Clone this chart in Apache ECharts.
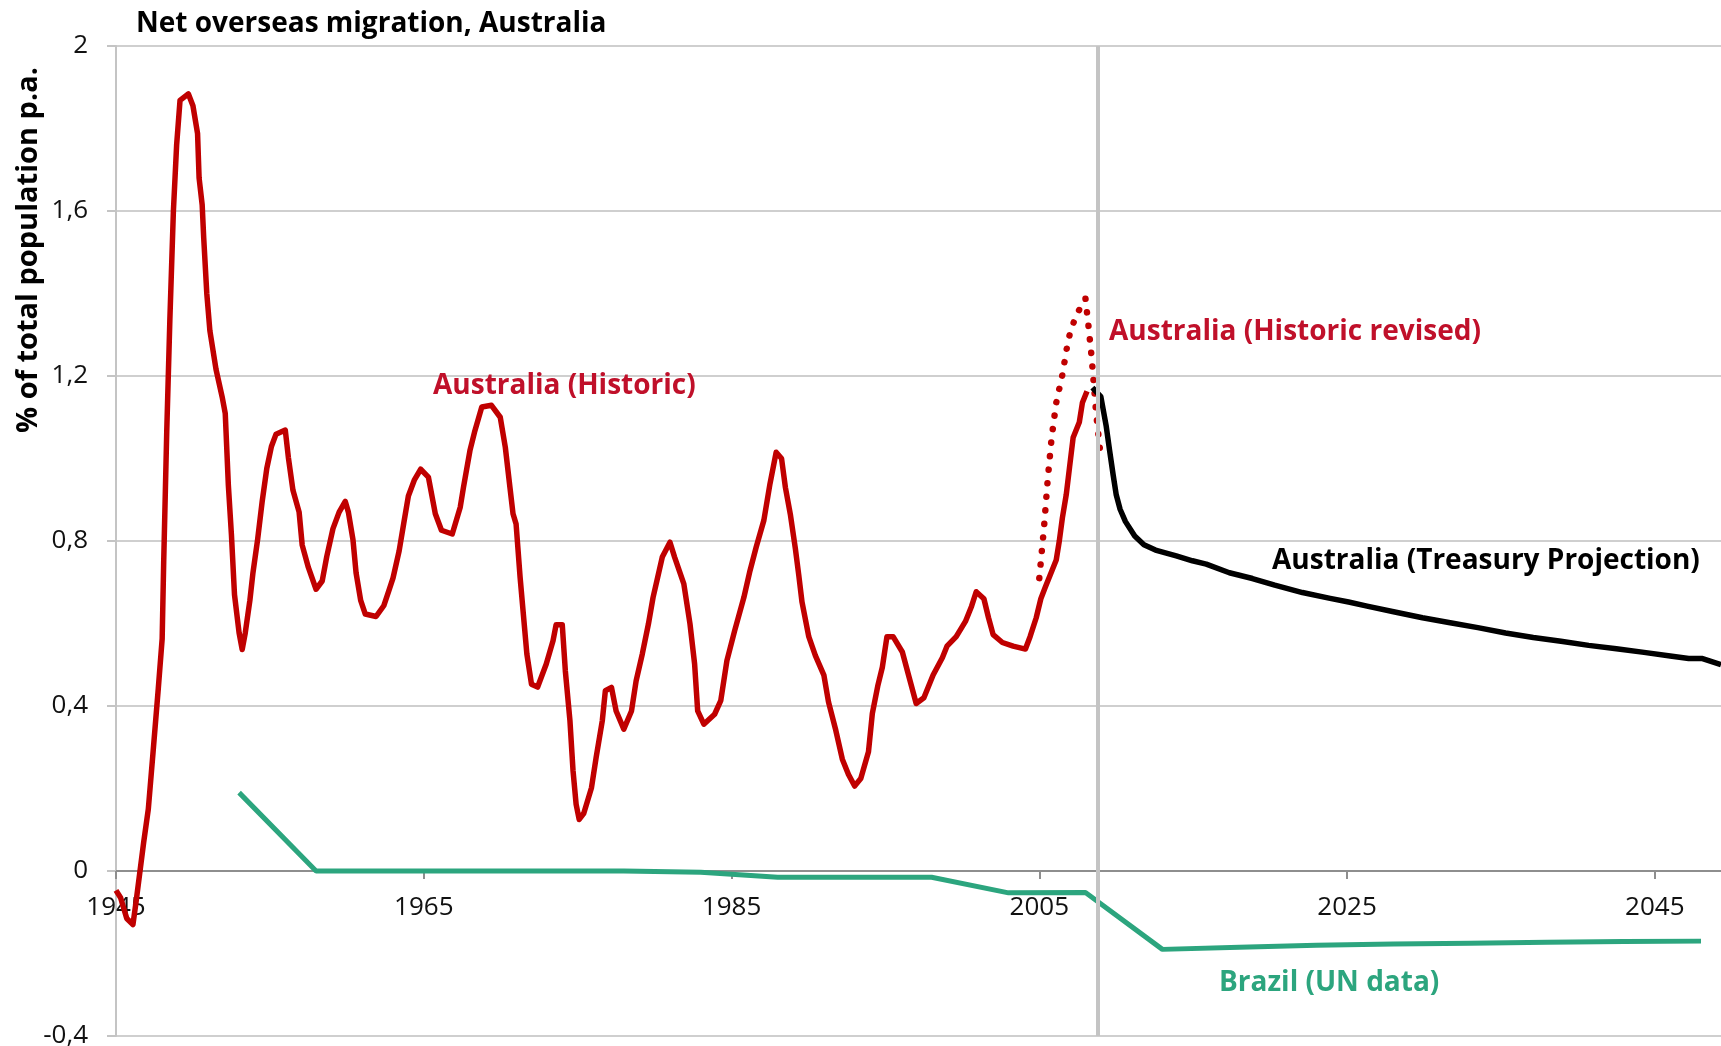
<!DOCTYPE html>
<html>
<head>
<meta charset="utf-8">
<script src="https://cdn.jsdelivr.net/npm/echarts@6/dist/echarts.min.js"></script>
<style>
  html, body { margin: 0; padding: 0; background: #fff; }
  #chart { width: 1721px; height: 1046px; }
</style>
</head>
<body>
<div id="chart"></div>
<script>
// net overseas migration, % of total population p.a. -- [year, value]
const historic = [
  [1945.0, -0.047], [1945.3, -0.065], [1945.7, -0.115], [1946.1, -0.13], [1946.3, -0.076],
  [1946.8, 0.07], [1947.1, 0.15], [1947.4, 0.284], [1947.75, 0.443], [1948.0, 0.563],
  [1948.1, 0.75], [1948.3, 1.069], [1948.5, 1.336], [1948.73, 1.6], [1948.94, 1.76],
  [1949.16, 1.868], [1949.7, 1.884], [1950.0, 1.855], [1950.3, 1.788], [1950.4, 1.68],
  [1950.6, 1.615], [1950.7, 1.535], [1950.9, 1.4], [1951.1, 1.31], [1951.5, 1.216],
  [1951.9, 1.149], [1952.1, 1.109], [1952.3, 0.936], [1952.5, 0.816], [1952.7, 0.67],
  [1953.0, 0.577], [1953.2, 0.537], [1953.4, 0.577], [1953.7, 0.656], [1953.9, 0.723],
  [1954.2, 0.803], [1954.5, 0.896], [1954.8, 0.976], [1955.1, 1.029], [1955.4, 1.059],
  [1956.0, 1.069], [1956.2, 1.003], [1956.5, 0.923], [1956.9, 0.87], [1957.1, 0.79],
  [1957.5, 0.736], [1958.0, 0.683], [1958.4, 0.703], [1958.7, 0.763], [1959.1, 0.83],
  [1959.5, 0.87], [1959.9, 0.896], [1960.1, 0.87], [1960.4, 0.803], [1960.6, 0.723],
  [1960.9, 0.656], [1961.2, 0.623], [1961.9, 0.617], [1962.4, 0.643], [1962.7, 0.676],
  [1963.0, 0.71], [1963.4, 0.776], [1963.7, 0.843], [1964.0, 0.909], [1964.4, 0.949],
  [1964.8, 0.974], [1965.3, 0.955], [1965.75, 0.866], [1966.15, 0.826], [1966.85, 0.817],
  [1967.37, 0.882], [1967.58, 0.93], [1968.0, 1.019], [1968.3, 1.064], [1968.77, 1.125],
  [1969.4, 1.129], [1969.97, 1.1], [1970.3, 1.027], [1970.6, 0.93], [1970.8, 0.866],
  [1971.0, 0.841], [1971.26, 0.712], [1971.7, 0.526], [1972.0, 0.453], [1972.4, 0.446],
  [1972.96, 0.502], [1973.4, 0.558], [1973.6, 0.597], [1974.0, 0.597], [1974.2, 0.485],
  [1974.5, 0.364], [1974.7, 0.243], [1974.9, 0.162], [1975.1, 0.125], [1975.4, 0.14],
  [1975.9, 0.202], [1976.2, 0.275], [1976.6, 0.364], [1976.8, 0.437], [1977.2, 0.445],
  [1977.5, 0.388], [1978.0, 0.344], [1978.5, 0.388], [1978.8, 0.461], [1979.2, 0.526],
  [1979.6, 0.599], [1979.9, 0.663], [1980.2, 0.712], [1980.5, 0.761], [1981.0, 0.797],
  [1981.3, 0.761], [1981.9, 0.696], [1982.3, 0.599], [1982.6, 0.502], [1982.8, 0.388],
  [1983.2, 0.356], [1983.9, 0.38], [1984.3, 0.413], [1984.7, 0.51], [1985.2, 0.582],
  [1985.8, 0.663], [1986.2, 0.728], [1986.6, 0.785], [1987.1, 0.85], [1987.5, 0.939],
  [1987.9, 1.015], [1988.25, 1.0], [1988.5, 0.93], [1988.82, 0.865], [1989.15, 0.781],
  [1989.37, 0.717], [1989.58, 0.652], [1990.02, 0.568], [1990.45, 0.522], [1991.0, 0.475],
  [1991.3, 0.41], [1991.75, 0.345], [1992.2, 0.271], [1992.6, 0.234], [1993.0, 0.206],
  [1993.4, 0.224], [1993.9, 0.289], [1994.15, 0.382], [1994.5, 0.448], [1994.8, 0.494],
  [1995.1, 0.568], [1995.5, 0.568], [1996.1, 0.531], [1996.5, 0.475], [1997.0, 0.406],
  [1997.5, 0.42], [1998.1, 0.475], [1998.7, 0.517], [1999.0, 0.545], [1999.6, 0.568],
  [2000.2, 0.605], [2000.6, 0.642], [2000.9, 0.677], [2001.4, 0.66], [2001.7, 0.614],
  [2002.0, 0.573], [2002.6, 0.554], [2003.3, 0.545], [2004.1, 0.538], [2004.4, 0.568],
  [2004.8, 0.614], [2005.1, 0.66], [2005.4, 0.689], [2005.8, 0.726], [2006.1, 0.754],
  [2006.3, 0.8], [2006.5, 0.856], [2006.75, 0.912], [2006.96, 0.977], [2007.2, 1.051],
  [2007.6, 1.088], [2007.8, 1.135], [2008.1, 1.163],
]

const revised = [
  [2005.0, 0.71], [2005.3, 0.83], [2005.55, 0.95], [2005.8, 1.05], [2006.1, 1.135],
  [2006.5, 1.203], [2006.8, 1.27], [2007.0, 1.305], [2007.3, 1.337], [2007.7, 1.369],
  [2008.0, 1.388], [2008.2, 1.32], [2008.4, 1.246], [2008.55, 1.177], [2008.7, 1.107],
  [2008.9, 1.037], [2009.0, 1.0],
]

const projection = [
  [2008.45, 1.172], [2009.0, 1.15], [2009.35, 1.078], [2009.57, 1.019], [2009.8, 0.96],
  [2010.0, 0.912], [2010.25, 0.877], [2010.6, 0.847], [2011.2, 0.812], [2011.8, 0.791],
  [2012.55, 0.778], [2013.9, 0.764], [2014.95, 0.752], [2015.85, 0.744], [2017.35, 0.723],
  [2018.85, 0.709], [2020.3, 0.693], [2022.1, 0.675], [2023.9, 0.661], [2025.1, 0.652],
  [2026.3, 0.642], [2028.1, 0.628], [2029.9, 0.614], [2031.7, 0.602], [2033.5, 0.59],
  [2035.3, 0.577], [2037.1, 0.566], [2038.9, 0.557], [2040.7, 0.547], [2042.5, 0.539],
  [2044.3, 0.53], [2046.0, 0.521], [2047.2, 0.515], [2048.1, 0.515], [2049.3, 0.5],
]

const brazil = [
  [1953, 0.19], [1958, 0], [1963, 0], [1968, 0], [1973, 0], [1978, 0], [1983, -0.003],
  [1988, -0.015], [1993, -0.015], [1998, -0.015], [2003, -0.053], [2008, -0.052],
  [2013, -0.19], [2018, -0.185], [2023, -0.18], [2028, -0.177], [2033, -0.175],
  [2038, -0.173], [2043, -0.171], [2048, -0.17],
]

const projectionStart = 2008.8

const yMin = -0.4
const yMax = 2

const chart = echarts.init(document.getElementById('chart'))

const FONT = '"Open Sans", "Noto Sans", sans-serif'
const RED = '#C00000'
const RED_TEXT = '#C0102A'
const GREEN = '#2CA57E'

const gridTop = 46
const gridBottom = 10
const plotHeight = 1046 - gridTop - gridBottom
// lift the year axis up to the zero line
const zeroOffset = -plotHeight * (0 - yMin) / (yMax - yMin)

const label = (text, x, y, color) => ({
  type: 'text',
  x: x,
  y: y,
  z: 100,
  style: {
    text: text,
    fill: color,
    fontSize: 28,
    fontWeight: 'bold',
    fontFamily: FONT,
    verticalAlign: 'middle',
    align: 'left',
  },
})

chart.setOption({
  backgroundColor: '#fff',
  animation: false,
  grid: {
    left: 116,
    right: 0,
    top: gridTop,
    bottom: gridBottom,
    containLabel: false,
    outerBoundsMode: 'none',
  },
  xAxis: {
    type: 'value',
    position: 'bottom',
    offset: zeroOffset,
    min: 1945,
    max: 2049.3,
    interval: 20,
    axisLine: {
      onZero: false,
      lineStyle: { color: '#8E8E8E', width: 2 },
    },
    axisTick: {
      show: true,
      length: 8,
      lineStyle: { color: '#8E8E8E', width: 2 },
    },
    splitLine: { show: false },
    axisLabel: {
      margin: 24,
      color: '#111',
      fontSize: 26,
      fontFamily: FONT,
      showMaxLabel: false,
      formatter(v) {
        return (v - 1945) % 20 === 0 ? String(v) : ''
      },
    },
  },
  yAxis: {
    type: 'value',
    min: yMin,
    max: yMax,
    interval: 0.4,
    axisLine: {
      show: true,
      lineStyle: { color: '#C4C4C4', width: 2 },
    },
    axisTick: {
      show: true,
      length: 9,
      lineStyle: { color: '#C4C4C4', width: 2 },
    },
    splitLine: {
      show: true,
      lineStyle: { color: '#CFCFCF', width: 2 },
    },
    axisLabel: {
      margin: 28,
      color: '#111',
      fontSize: 26,
      fontFamily: FONT,
      formatter(v) {
        return String(Math.round(v * 10) / 10).replace('.', ',')
      },
    },
  },
  graphic: [
    label('Net overseas migration, Australia', 136, 24, '#000'),
    {
      type: 'text',
      x: 29,
      y: 250,
      rotation: Math.PI / 2,
      style: {
        text: '% of total population p.a.',
        fill: '#000',
        fontSize: 29,
        fontWeight: 'bold',
        fontFamily: FONT,
        align: 'center',
        verticalAlign: 'middle',
      },
    },
    label('Australia (Historic)', 433, 386, RED_TEXT),
    label('Australia (Historic revised)', 1109, 332, RED_TEXT),
    label('Australia (Treasury Projection)', 1272, 561, '#000'),
    label('Brazil (UN data)', 1219, 983, GREEN),
  ],
  series: [
    {
      name: 'divider',
      type: 'line',
      data: [],
      z: 1,
      markLine: {
        silent: true,
        symbol: 'none',
        label: { show: false },
        lineStyle: { color: '#C4C4C4', width: 4, type: 'solid' },
        data: [{ xAxis: projectionStart }],
      },
    },
    {
      name: 'Brazil (UN data)',
      type: 'line',
      data: brazil,
      symbol: 'none',
      z: 2,
      lineStyle: { color: GREEN, width: 5 },
    },
    {
      name: 'Australia (Historic)',
      type: 'line',
      data: historic,
      symbol: 'none',
      z: 3,
      lineStyle: { color: RED, width: 5.5, join: 'round' },
    },
    {
      name: 'Australia (Historic revised)',
      type: 'line',
      data: revised,
      symbol: 'none',
      z: 3,
      lineStyle: { color: RED, width: 6.5, type: [0.1, 13.5], cap: 'round' },
    },
    {
      name: 'Australia (Treasury Projection)',
      type: 'line',
      data: projection,
      symbol: 'none',
      z: 4,
      lineStyle: { color: '#000', width: 5.5, join: 'round' },
    },
  ],
})
</script>
</body>
</html>
